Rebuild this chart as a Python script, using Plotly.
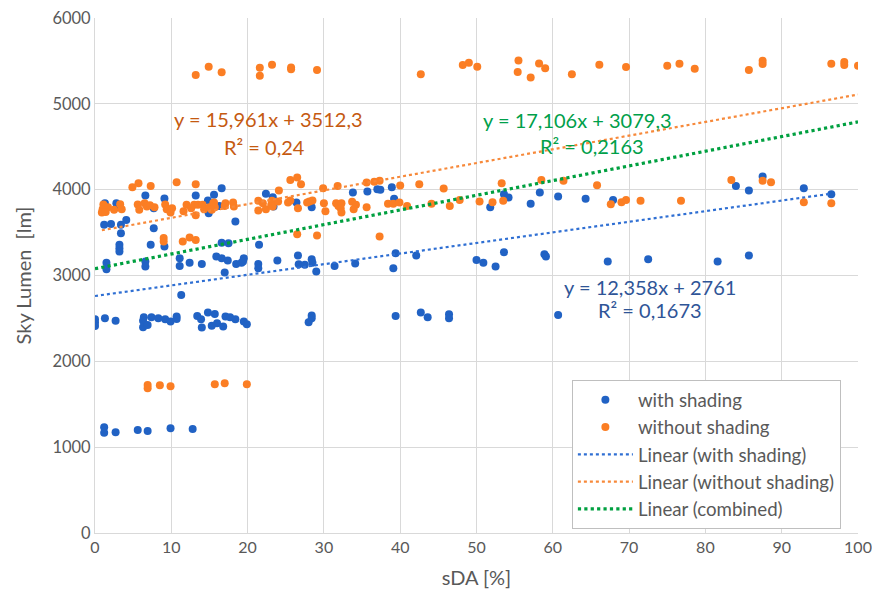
import plotly.graph_objects as go

# ---------------- data ----------------
with_shading_x = [6.6, 9.1, 13.2, 15.6, 1.3, 2.8, 3.0, 7.7, 14.8, 1.2, 2.1, 3.4, 4.1, 3.4, 7.7, 3.2, 3.2, 3.2, 7.3, 9.1,
                  1.5, 1.5, 6.6, 6.6, 11.1, 11.1, 12.4, 14.0, 15.9,
                  16.6, 16.3, 14.9, 18.4, 16.6, 17.5, 16.6, 17.4, 18.5, 19.5, 19.2, 17.0, 22.4, 23.3, 21.4, 23.9, 21.4,
                  23.4, 26.4, 28.4, 21.5, 19.4, 26.6, 26.7, 27.5, 28.4, 28.5, 29.0, 31.4,
                  33.8, 35.7, 37.0, 37.4, 38.9, 39.2, 34.1, 39.4, 39.1, 42.1, 50.0,
                  51.8, 53.6, 54.2, 57.1, 58.3, 60.7, 64.3, 67.9, 50.9, 52.5, 53.6, 58.9, 59.1, 67.2, 72.5, 60.7,
                  87.5, 84.0, 85.7, 92.9, 96.5, 81.6, 85.7,
                  0.0, 0.0, 0.0, 1.3, 2.7, 6.4, 6.3, 6.3, 6.9, 7.4, 8.3, 9.2, 9.9, 10.7, 10.7, 11.3, 13.4, 13.9, 14.0,
                  14.8, 15.7, 15.3, 16.0, 16.8, 17.1, 17.7, 18.4, 19.5, 19.9,
                  28.0, 28.4, 28.4, 39.4, 42.7, 43.6, 46.4, 46.4,
                  1.2, 1.2, 2.7, 5.6, 6.9, 9.9, 12.8]
with_shading_y = [3931, 3896, 3931, 3940, 3843, 3843, 3796, 3784, 3873, 3590, 3601, 3590, 3648, 3493, 3551, 3357, 3318, 3279, 3357, 3337,
                  3150, 3073, 3162, 3104, 3201, 3112, 3150, 3135, 3220,
                  4017, 3811, 3726, 3628, 3383, 3376, 3201, 3174, 3135, 3201, 3150, 3034, 3951, 3913, 3135, 3174, 3085,
                  3803, 3850, 3796, 3357, 3162, 3232, 3132, 3124, 3190, 3150, 3046, 3112,
                  3966, 3978, 4006, 3998, 4029, 3893, 3139, 3260, 3085, 3232, 3182,
                  3796, 3948, 3908, 3835, 3966, 3920, 3893, 3881, 3150, 3104, 3271, 3248, 3220, 3162, 3190, 2541,
                  4153, 4044, 3990, 4017, 3948, 3162, 3232,
                  2491, 2451, 2413, 2502, 2474, 2514, 2474, 2397, 2424, 2514, 2502, 2491, 2463, 2521, 2494, 2774, 2529, 2491, 2393,
                  2568, 2552, 2416, 2444, 2405, 2521, 2514, 2491, 2463, 2432,
                  2456, 2533, 2502, 2529, 2568, 2514, 2549, 2502,
                  1232, 1169, 1174, 1200, 1189, 1220, 1212]

without_shading_x = [13.2, 14.9, 16.6, 21.6, 21.6, 23.2, 25.7, 25.7, 29.1, 42.7, 48.2, 49.0, 50.1, 55.5, 55.4, 57.1, 58.2, 59.0,
                     62.5, 66.1, 69.6, 75.0, 76.6, 78.6, 85.7, 87.5, 87.5, 96.5, 98.2, 98.2, 100.0,
                     6.9, 6.9, 8.5, 9.9, 15.7, 17.0, 19.9,
                     5.7, 4.9, 7.3, 10.7, 13.2,
                     1.1, 1.0, 0.9, 1.7, 1.4, 2.5, 3.3, 3.5, 5.6, 5.8, 6.5, 6.8, 7.2, 7.8, 9.2, 9.4, 9.9, 10.1, 11.6, 12.0,
                     12.6, 13.0, 13.2, 13.5, 14.1, 14.3, 15.0, 15.6,
                     9.0, 9.0, 11.5, 12.4, 13.2,
                     25.6, 26.5, 27.0, 24.1, 29.9, 31.8,
                     15.5, 15.7, 15.3, 17.0, 17.1, 18.1, 18.2, 21.4, 21.4, 22.0, 22.4, 23.2, 23.1, 23.3, 24.0, 25.3, 25.6,
                     27.8, 28.1, 30.0, 30.2, 31.6, 31.9,
                     26.5, 29.1,
                     35.6, 36.6, 37.3, 40.0, 42.5, 45.7,
                     28.5, 26.6, 32.3, 32.2, 32.3, 33.7, 34.2, 33.9, 35.6, 38.4, 39.1, 39.9, 40.9, 44.1, 46.5, 47.8, 50.4,
                     37.3,
                     52.1, 53.3, 53.5, 58.5, 61.4, 65.8, 67.6, 69.0, 69.6, 71.5,
                     76.8, 83.4, 87.5, 88.6, 92.9, 96.5]
without_shading_y = [5335, 5431, 5369, 5420, 5326, 5455, 5423, 5404, 5393, 5346, 5451, 5478, 5431, 5505, 5370, 5307, 5470, 5416,
                     5346, 5455, 5428, 5443, 5466, 5408, 5393, 5501, 5463, 5466, 5486, 5451, 5443,
                     1725, 1686, 1721, 1710, 1733, 1745, 1733,
                     4076, 4029, 4044, 4087, 4064,
                     3826, 3773, 3733, 3796, 3741, 3765, 3831, 3773, 3826, 3765, 3843, 3803, 3819, 3796, 3826, 3773, 3733, 3784, 3749, 3823,
                     3784, 3823, 3703, 3823, 3823, 3773, 3796, 3850,
                     3438, 3395, 3395, 3442, 3415,
                     4114, 4141, 4064, 3990, 4017, 4044,
                     3843, 3796, 3765, 3811, 3843, 3850, 3803, 3870, 3757, 3843, 3773, 3870, 3823, 3803, 3862, 3850, 3873,
                     3850, 3862, 3843, 3749, 3843, 3811,
                     3481, 3465,
                     4083, 4091, 4103, 4048, 4064, 4013,
                     3873, 3784, 3843, 3784, 3733, 3858, 3823, 3773, 3796, 3835, 3835, 3850, 3811, 3835, 3811, 3881, 3862,
                     3453,
                     3854, 4076, 3870, 4114, 4103, 4052, 3831, 3854, 3881, 3870,
                     3870, 4114, 4103, 4087, 3854, 3843]

# trendline coefficients as printed on the chart
trend_names = ["Linear (with shading)", "Linear (without shading)", "Linear (combined)"]
trend_slopes = [12.358, 15.961, 17.106]
trend_intercepts = [2761.0, 3512.3, 3079.3]
trend_equations = ["y = 12,358x + 2761", "y = 15,961x + 3512,3", "y = 17,106x + 3079,3"]
trend_r2 = ["R² = 0,1673", "R² = 0,24", "R² = 0,2163"]

x_ticks = [0, 10, 20, 30, 40, 50, 60, 70, 80, 90, 100]
y_ticks = [0, 1000, 2000, 3000, 4000, 5000, 6000]

# ---------------- styling ----------------
FONT = "Lato, 'Open Sans', sans-serif"
BLUE = "#2162c4"
ORANGE = "#fb7e24"
TREND_COLORS = ["#2f6fd3", "#f7893a", "#00a040"]
TREND_WIDTHS = [2.2, 2.2, 3.2]
LABEL_COLORS = ["#2f5597", "#c55a11", "#00a04a"]
# label anchor positions (data coords): eq x, eq y, r2 x, r2 y
EQ_POS = [(72.7, 2870, 72.7, 2600), (22.8, 4822, 22.2, 4502), (63.3, 4814, 65.1, 4510)]

fig = go.Figure()
fig.add_trace(go.Scatter(x=with_shading_x, y=with_shading_y, mode="markers", name="with shading",
                         legendgroup="a", marker=dict(color=BLUE, size=8)))
fig.add_trace(go.Scatter(x=without_shading_x, y=without_shading_y, mode="markers", name="without shading",
                         legendgroup="b", marker=dict(color=ORANGE, size=8)))

all_x = with_shading_x + without_shading_x
ranges = [(min(with_shading_x), max(with_shading_x)),
          (min(without_shading_x), max(without_shading_x)),
          (min(all_x), max(all_x))]
for i in range(3):
    x0, x1 = ranges[i]
    xs = [x0, x1]
    ys = [trend_slopes[i] * v + trend_intercepts[i] for v in xs]
    fig.add_trace(go.Scatter(x=xs, y=ys, mode="lines", name=trend_names[i], legendgroup="t%d" % i,
                             line=dict(color=TREND_COLORS[i], width=TREND_WIDTHS[i], dash="dot")))

for i in range(3):
    ex, ey, rx, ry = EQ_POS[i]
    fig.add_annotation(x=ex, y=ey, text=trend_equations[i], showarrow=False,
                       font=dict(family=FONT, size=20, color=LABEL_COLORS[i]))
    fig.add_annotation(x=rx, y=ry, text=trend_r2[i], showarrow=False,
                       font=dict(family=FONT, size=20, color=LABEL_COLORS[i]))

fig.update_layout(
    width=872, height=604,
    margin=dict(l=95, r=14, t=18, b=71),
    paper_bgcolor="white", plot_bgcolor="white",
    font=dict(family=FONT, size=16, color="#595959"),
    showlegend=True,
    legend=dict(x=0.625, y=0.297, xanchor="left", yanchor="top",
                bgcolor="white", bordercolor="#bfbfbf", borderwidth=1,
                font=dict(family=FONT, size=18.7, color="#595959"),
                tracegroupgap=0, itemwidth=55),
)
fig.update_xaxes(range=[0, 100], tickvals=x_ticks, showgrid=True, gridcolor="#d9d9d9", gridwidth=1,
                 zeroline=False, showline=True, linecolor="#d9d9d9", linewidth=1, automargin=False,
                 ticks="", ticklabeloverflow="allow", tickfont=dict(size=16, color="#595959"),
                 title=dict(text="sDA [%]", font=dict(size=20, color="#595959")))
fig.update_yaxes(range=[0, 6000], tickvals=y_ticks, showgrid=True, gridcolor="#d9d9d9", gridwidth=1,
                 zeroline=False, showline=True, linecolor="#d9d9d9", linewidth=1, automargin=False,
                 ticks="", ticklabeloverflow="allow", tickfont=dict(size=16.5, color="#595959"),
                 title=dict(text="Sky Lumen  [lm]", font=dict(size=20, color="#595959")))

# remove the default page margin so the figure fills the window exactly; hide the modebar
fig.write_html("out.html", config={"displayModeBar": False},
               post_script="document.body.style.margin='0';document.body.style.overflow='hidden';")
